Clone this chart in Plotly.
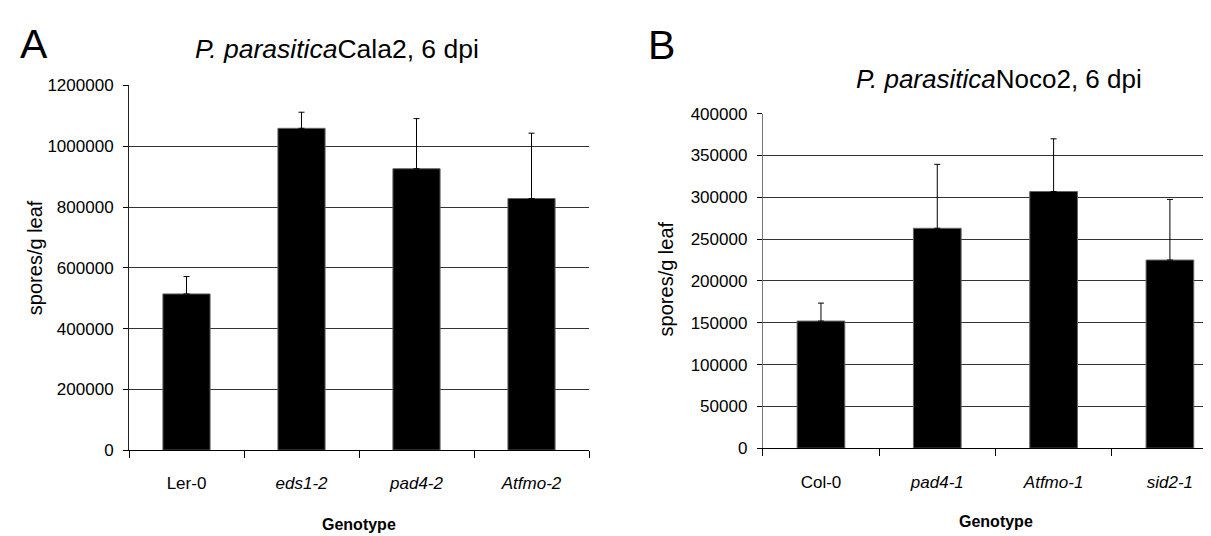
import plotly.graph_objects as go

# ---- data ----
cats_a = ["Ler-0", "eds1-2", "pad4-2", "Atfmo-2"]
labels_a = ["Ler-0", "<i>eds1-2</i>", "<i>pad4-2</i>", "<i>Atfmo-2</i>"]
means_a = [514000, 1059000, 926000, 828000]
err_a = [57000, 53000, 165000, 215000]

cats_b = ["Col-0", "pad4-1", "Atfmo-1", "sid2-1"]
labels_b = ["Col-0", "<i>pad4-1</i>", "<i>Atfmo-1</i>", "<i>sid2-1</i>"]
means_b = [152000, 263000, 307000, 225000]
err_b = [21500, 76500, 63000, 72500]

ticks_a = [0, 200000, 400000, 600000, 800000, 1000000, 1200000]
ticks_b = [0, 50000, 100000, 150000, 200000, 250000, 300000, 350000, 400000]

W, H = 1211, 536
FONT = "Liberation Sans, Arial, sans-serif"


def px(x):
    return x / W


def py(y):
    return 1 - y / H


fig = go.Figure()

fig.add_trace(go.Bar(
    x=cats_a, y=means_a, width=0.41,
    marker=dict(color="black", line=dict(color="#666666", width=1)),
    error_y=dict(type="data", array=err_a, arrayminus=[0] * 4, symmetric=False,
                 color="black", thickness=1, width=3),
    xaxis="x", yaxis="y", showlegend=False, hoverinfo="x+y"))

fig.add_trace(go.Bar(
    x=cats_b, y=means_b, width=0.41,
    marker=dict(color="black", line=dict(color="#666666", width=1)),
    error_y=dict(type="data", array=err_b, arrayminus=[0] * 4, symmetric=False,
                 color="black", thickness=1, width=3),
    xaxis="x2", yaxis="y2", showlegend=False, hoverinfo="x+y"))

tickfont = dict(family=FONT, size=17, color="black")

fig.update_layout(
    width=W, height=H,
    margin=dict(l=0, r=0, t=0, b=0),
    paper_bgcolor="white", plot_bgcolor="white",
    xaxis=dict(domain=[px(121), px(581)], range=[-0.5, 3.5],
               tickmode="array", tickvals=cats_a, ticktext=labels_a,
               tickson="boundaries", ticks="outside", ticklen=7, tickcolor="black",
               showline=True, linecolor="black", linewidth=1, showgrid=False,
               tickfont=tickfont, ticklabelstandoff=18, anchor="y"),
    yaxis=dict(domain=[py(449), py(71)], range=[0, 1200000],
               tickmode="array", tickvals=ticks_a, ticktext=[str(v) for v in ticks_a],
               ticks="outside", ticklen=5, tickcolor="black",
               showline=True, linecolor="#222222", linewidth=1,
               showgrid=True, gridcolor="#333333", gridwidth=1,
               zeroline=False, tickfont=tickfont, ticklabelstandoff=6, anchor="x"),
    xaxis2=dict(domain=[px(754.8), 1.0], range=[-0.5, 3.422],
                tickmode="array", tickvals=cats_b, ticktext=labels_b,
                tickson="boundaries", ticks="outside", ticklen=7, tickcolor="black",
                showline=True, linecolor="black", linewidth=1, showgrid=False,
                tickfont=tickfont, ticklabelstandoff=18, anchor="y2"),
    yaxis2=dict(domain=[py(447), py(100.3)], range=[0, 400000],
                tickmode="array", tickvals=ticks_b, ticktext=[str(v) for v in ticks_b],
                ticks="outside", ticklen=5, tickcolor="black",
                showline=True, linecolor="#777777", linewidth=1,
                showgrid=True, gridcolor="#333333", gridwidth=1,
                zeroline=False, tickfont=tickfont, ticklabelstandoff=6, anchor="x2"),
    bargap=0.59,
)

ann = []
# panel letters
ann.append(dict(text="A", x=px(26), y=py(28), xref="paper", yref="paper",
                showarrow=False, font=dict(family=FONT, size=41, color="black"),
                xanchor="center", yanchor="middle"))
ann.append(dict(text="B", x=px(653.5), y=py(29), xref="paper", yref="paper",
                showarrow=False, font=dict(family=FONT, size=41, color="black"),
                xanchor="center", yanchor="middle"))
# titles
ann.append(dict(text="<i>P. parasitica</i>Cala2, 6 dpi", x=px(329), y=py(33),
                xref="paper", yref="paper", showarrow=False,
                font=dict(family=FONT, size=26.5, color="black"),
                xanchor="center", yanchor="middle"))
ann.append(dict(text="<i>P. parasitica</i>Noco2, 6 dpi", x=px(991), y=py(64),
                xref="paper", yref="paper", showarrow=False,
                font=dict(family=FONT, size=26, color="black"),
                xanchor="center", yanchor="middle"))
# y titles
ann.append(dict(text="spores/g leaf", x=px(27), y=py(250), xref="paper", yref="paper",
                showarrow=False, textangle=-90,
                font=dict(family=FONT, size=20, color="black"),
                xanchor="center", yanchor="middle"))
ann.append(dict(text="spores/g leaf", x=px(658), y=py(271), xref="paper", yref="paper",
                showarrow=False, textangle=-90,
                font=dict(family=FONT, size=20, color="black"),
                xanchor="center", yanchor="middle"))
# x titles
ann.append(dict(text="<b>Genotype</b>", x=px(351), y=py(526), xref="paper", yref="paper",
                showarrow=False, font=dict(family=FONT, size=16, color="black"),
                xanchor="center", yanchor="middle"))
ann.append(dict(text="<b>Genotype</b>", x=px(987.5), y=py(523.5), xref="paper", yref="paper",
                showarrow=False, font=dict(family=FONT, size=16, color="black"),
                xanchor="center", yanchor="middle"))

fig.update_layout(annotations=ann)

fig.write_html("out.html")
